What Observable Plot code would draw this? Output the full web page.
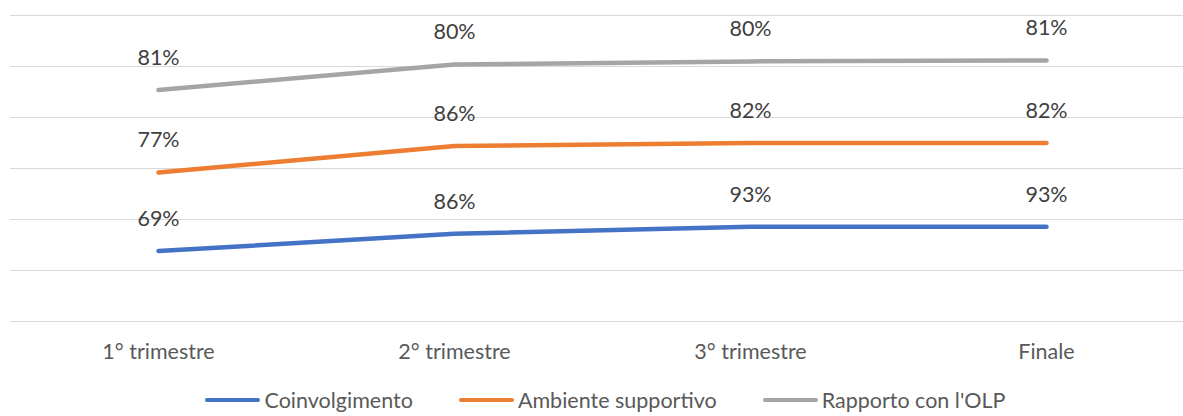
<!DOCTYPE html>
<html>
<head>
<meta charset="utf-8">
<script src="https://cdn.jsdelivr.net/npm/d3@7"></script>
<script src="https://cdn.jsdelivr.net/npm/@observablehq/plot@0.6"></script>
<style>
  body { margin: 0; background: #fff; font-family: Lato, "Open Sans", sans-serif; overflow: hidden; }
  #chart svg { display: block; }
  .legend { display: flex; justify-content: center; gap: 46px; margin-top: 2px; height: 26px;
            align-items: center; font-size: 21.5px; line-height: 24px; color: #595959; padding-left: 28px; }
  .legend .item { display: flex; align-items: center; gap: 4px; }
  .legend .swatch { width: 55px; height: 4px; border-radius: 2px; }
</style>
</head>
<body>
<div id="chart"></div>
<script>
// Periods along the x axis
const periods = ["1° trimestre", "2° trimestre", "3° trimestre", "Finale"];
// Series names and colours (stacked bottom to top)
const seriesNames = ["Coinvolgimento", "Ambiente supportivo", "Rapporto con l'OLP"];
const seriesColors = ["#4472C4", "#ED7D31", "#A5A5A5"];
// Percent values per series, one per period
const coinvolgimento = [69, 86, 93, 93];
const ambiente = [77, 86, 82, 82];
const rapporto = [81, 80, 80, 81];
// Gridline values of the (hidden) y axis
const gridValues = [0, 50, 100, 150, 200, 250, 300];

const seriesValues = [coinvolgimento, ambiente, rapporto];
const data = seriesNames.flatMap((name, i) =>
  periods.map((p, j) => ({period: p, series: name, value: seriesValues[i][j]}))
);

const chart = Plot.plot({
  width: 1183,
  height: 385,
  marginTop: 15,
  marginBottom: 64,
  marginLeft: 10,
  marginRight: 0,
  style: {fontFamily: "Lato, 'Open Sans', sans-serif", fontSize: "21.5px", color: "#595959", background: "#fff"},
  x: {type: "point", domain: periods, range: [158, 1046], padding: 0},
  y: {domain: [0, 300], axis: null},
  color: {domain: seriesNames, range: seriesColors},
  marks: [
    Plot.ruleY(gridValues, {stroke: "#d9d9d9", strokeWidth: 1.2}),
    Plot.axisX({tickSize: 0, tickPadding: 22, label: null, fill: "#595959", fontSize: 21.5}),
    // Stacked lines: each line sits on top of the previous series
    Plot.lineY(data, Plot.stackY2({
      x: "period", y: "value", z: "series", stroke: "series", order: null,
      strokeWidth: 4.5, strokeLinecap: "round", strokeLinejoin: "round"
    })),
    Plot.text(data, Plot.stackY2({
      x: "period", y: "value", z: "series", order: null,
      text: d => d.value + "%", dy: -32, fill: "#404040", fontSize: 21.5
    }))
  ]
});
document.getElementById("chart").append(chart);

// Legend below the chart
const legend = document.createElement("div");
legend.className = "legend";
seriesNames.forEach((name, i) => {
  const item = document.createElement("div");
  item.className = "item";
  const sw = document.createElement("span");
  sw.className = "swatch";
  sw.style.background = seriesColors[i];
  const label = document.createElement("span");
  label.textContent = name;
  item.append(sw, label);
  legend.append(item);
});
document.body.append(legend);
</script>
</body>
</html>
